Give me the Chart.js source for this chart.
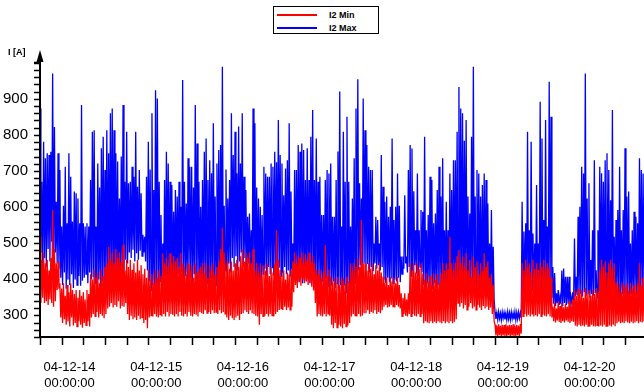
<!DOCTYPE html>
<html>
<head>
<meta charset="utf-8">
<script src="https://cdn.jsdelivr.net/npm/chart.js@4.4.1/dist/chart.umd.min.js"></script>
<style>
  body { margin: 0; background: #fff; }
  #wrap { position: relative; width: 644px; height: 392px; }
  #legend {
    position: absolute; left: 273px; top: 6px; width: 106px; height: 28px;
    border: 1px solid #000; box-sizing: border-box; background: #fff;
    font: bold 9px "Liberation Sans", Arial, sans-serif;
  }
  #legend .row { position: absolute; left: 0; height: 12px; width: 100%; }
  #legend .line { position: absolute; left: 3px; top: 5px; width: 40px; height: 1.5px; }
  #legend .txt { position: absolute; left: 55px; top: 0; line-height: 12px; }
  #unit {
    position: absolute; left: 8px; top: 47px;
    font: bold 9px "Liberation Sans", Arial, sans-serif;
  }
</style>
</head>
<body>
<div id="wrap">
  <canvas id="chart"></canvas>
  <div id="legend">
    <div class="row" style="top:2px"><div class="line" style="background:#f00"></div><div class="txt">I2 Min</div></div>
    <div class="row" style="top:15px"><div class="line" style="background:#00f"></div><div class="txt">I2 Max</div></div>
  </div>
  <div id="unit">I [A]</div>
</div>
<script>
// sampling: hours relative to 04-12-14 00:00:00, one sample every 15 min
const startHour = -7.9;
const stepHours = 0.25;

const dayLabels = ['04-12-14', '04-12-15', '04-12-16', '04-12-17', '04-12-18', '04-12-19', '04-12-20'];
const yLabels = [300, 400, 500, 600, 700, 800, 900];

// I2 Max [A]
const i2Max = [
  869,470, 666,420, 777,455, 731,430, 745,480, 740,445, 749,500, 966,430, 818,470, 611,440,
  745,425, 699,400, 542,380, 600,415, 708,370, 551,395, 745,380, 680,410, 556,372, 639,395,
  634,380, 620,405, 551,378, 879,392, 551,400, 542,410, 551,385, 542,415, 671,395, 805,402,
  809,385, 542,370, 717,395, 650,365, 759,390, 791,360, 699,385, 809,372, 745,395, 856,365,
  869,390, 809,375, 745,398, 722,380, 620,405, 736,395, 879,420, 666,450, 805,440, 662,470,
  666,455, 708,478, 680,445, 805,468, 652,450, 699,475, 634,460, 519,470, 514,445, 680,420,
  777,390, 700,365, 856,380, 643,352, 920,375, 897,360, 666,390, 574,355, 495,380, 671,370,
  749,395, 717,360, 666,385, 657,372, 583,400, 643,385, 625,410, 666,390, 597,415, 948,395,
  666,405, 606,390, 731,418, 708,400, 708,385, 650,410, 879,395, 772,380, 666,400, 597,372,
  671,390, 749,368, 786,385, 671,375, 726,398, 690,370, 828,392, 625,380, 717,395, 754,368,
  768,390, 985,400, 600,420, 700,410, 620,440, 671,415, 856,455, 740,430, 805,460, 690,420,
  819,445, 717,470, 856,430, 680,455, 643,420, 569,440, 578,410, 532,395, 869,375, 828,360,
  650,385, 620,365, 597,380, 574,410, 708,425, 689,405, 680,430, 680,410, 717,428, 708,405,
  749,420, 720,410, 837,428, 740,405, 717,415, 629,430, 703,410, 726,420, 828,405, 639,425,
  495,400, 699,390, 699,403, 768,388, 749,400, 772,385, 754,398, 671,390, 759,395, 671,385,
  791,398, 865,380, 671,390, 786,375, 666,385, 680,378, 574,390, 574,380, 671,388, 699,376,
  689,385, 717,378, 569,390, 569,372, 671,385, 750,365, 916,380, 542,362, 805,378, 666,360,
  846,385, 666,368, 542,390, 620,372, 731,385, 869,375, 950,420, 662,435, 620,412, 897,440,
  809,420, 768,438, 708,415, 699,430, 699,418, 495,440, 569,425, 560,435, 495,420, 740,430,
  652,395, 611,385, 625,400, 569,388, 597,398, 786,385, 560,395, 597,390, 689,400, 600,388,
  459,410, 459,425, 629,440, 459,415, 699,430, 768,405, 758,420, 640,435, 532,412, 689,405,
  532,430, 588,415, 583,380, 791,370, 532,385, 574,366, 680,378, 671,368, 551,385, 578,372,
  643,380, 708,366, 625,385, 731,370, 532,380, 611,368, 532,360, 689,370, 643,352, 726,365,
  726,350, 805,362, 929,348, 869,360, 856,352, 780,365, 837,350, 625,360, 578,355, 791,368,
  985,350, 625,362, 699,355, 689,368, 625,350, 657,362, 689,348, 671,360, 606,352, 495,365,
  588,350, 486,340,
  305,286, 303,284, 306,287, 302,283, 305,288, 304,285, 301,283, 306,286, 303,284, 305,287,
  302,285, 306,283, 304,286, 305,288, 303,290,
  611,350, 528,362, 551,348, 805,360, 532,355, 777,365, 523,350, 495,362, 657,352, 495,365,
  888,350, 786,362, 560,348, 837,360, 542,352, 943,365, 846,345,
  430,328, 413,322, 357,330, 366,325, 348,328, 420,322, 426,330, 403,325, 403,328, 403,322,
  348,330, 360,335,
  509,348, 403,352, 569,345, 597,355, 708,348, 689,360, 966,350, 620,358, 662,345, 449,355,
  532,350, 726,358, 421,345, 532,355, 708,348, 690,360, 666,350, 726,345, 745,358, 699,350,
  615,345, 865,355, 514,348, 560,358, 588,350, 708,345, 532,355, 588,348, 759,358, 625,350,
  639,345, 495,355, 532,348, 583,358, 569,350, 551,345, 731,355, 699,348, 689,355
];

// I2 Min [A]
const i2Min = [
  514,330, 450,345, 470,330, 440,335, 450,325, 420,340, 455,330, 588,320, 480,335, 440,366,
  445,370, 385,290, 370,275, 385,285, 350,270, 380,280, 360,265, 385,290, 366,268, 355,275,
  366,265, 345,280, 366,270, 350,262, 360,275, 340,268, 366,280, 355,265, 410,290, 395,300,
  422,293, 400,305, 415,290, 385,300, 422,295, 405,288, 430,300, 440,315, 486,320, 450,330,
  470,318, 440,325, 480,320, 455,335, 470,315, 445,322, 491,320, 420,330, 450,300, 430,283,
  450,295, 422,285, 440,290, 415,283, 450,295, 420,285, 435,290, 410,275, 425,283, 400,260,
  422,290, 395,295, 410,293, 385,300, 422,293, 400,290, 420,298, 405,293, 468,300, 440,293,
  455,305, 430,293, 468,300, 440,298, 460,293, 445,300, 455,293, 430,305, 468,295, 440,293,
  430,300, 410,293, 440,305, 420,295, 435,293, 400,300, 440,298, 415,293, 425,305, 430,302,
  440,300, 415,310, 440,302, 400,305, 435,300, 420,310, 440,302, 410,305, 430,300, 445,310,
  480,302, 537,305, 470,300, 440,290, 450,283, 425,295, 445,288, 420,283, 440,290, 450,295,
  430,283, 460,300, 480,302, 445,310, 470,305, 455,300, 470,310, 440,302, 480,300, 420,295,
  440,293, 415,270, 440,300, 410,293, 435,295, 420,300, 440,293, 405,300, 430,295, 415,293,
  440,300, 532,305, 450,311, 422,315, 405,311, 420,320, 395,311, 415,318, 410,311, 422,320,
  445,360, 470,380, 440,372, 460,390, 455,378, 470,395, 440,385, 465,392, 450,380, 470,388,
  445,375, 460,365, 440,330, 422,293, 410,300, 422,295, 400,293, 415,300, 491,293, 405,300,
  422,295, 403,270, 390,260, 400,275, 385,262, 403,270, 380,265, 395,260, 400,272, 385,265,
  403,268, 390,275, 440,293, 420,300, 440,295, 430,293, 455,300, 430,293, 560,295, 440,302,
  440,302, 420,310, 440,300, 425,305, 440,302, 410,310, 435,300, 420,305, 440,302, 415,310,
  403,320, 385,325, 400,318, 380,320, 403,325, 390,320, 400,318, 385,325, 403,320, 380,315,
  357,293, 345,300, 357,295, 340,293, 357,300, 440,293, 420,300, 440,295, 415,293, 440,300,
  425,293, 440,300, 412,274, 395,280, 412,276, 390,274, 405,280, 380,274, 412,278, 395,274,
  410,280, 385,276, 412,274, 440,280, 420,274, 440,278, 425,274, 514,280, 440,274, 420,278,
  440,285, 460,330, 477,320, 440,330, 459,315, 430,325, 468,311, 420,320, 450,330, 403,315,
  459,320, 430,311, 445,325, 410,318, 440,311, 420,322, 468,315, 430,320, 445,311, 400,318,
  410,300, 380,280,
  270,240, 268,238, 271,241, 267,237, 270,240, 269,239, 271,238, 268,241, 270,237, 269,240,
  271,239, 267,238, 270,241, 268,239, 272,245,
  440,293, 420,300, 450,293, 430,298, 440,293, 415,300, 450,293, 425,296, 440,293, 422,300,
  440,293, 430,298, 450,295, 425,293, 440,300, 430,293, 400,290,
  320,280, 330,276, 315,282, 335,278, 322,275, 330,280, 318,276, 328,282, 320,278, 335,275,
  322,280, 340,278,
  366,268, 350,265, 370,270, 355,266, 366,268, 345,265, 372,270, 358,266, 366,265, 350,270,
  366,266, 355,265, 372,268, 360,265, 420,268, 450,265, 430,270, 445,266, 415,265, 440,268,
  450,265, 425,270, 440,266, 385,274, 370,278, 385,274, 360,276, 385,274, 375,280, 385,276,
  365,274, 385,278, 370,274, 380,276, 360,280, 385,274, 440,278, 380,276, 400,280
];

const toPoints = arr => arr.map((v, j) => ({ x: startHour + j * stepHours, y: v }));
const fontFamily = '"Liberation Sans", Arial, sans-serif';

// axis lines, arrow, tick marks (major/minor lengths differ) and tick labels
const axesPlugin = {
  id: 'axes',
  afterDraw(chart) {
    const { ctx, chartArea: a, scales: { x, y } } = chart;
    ctx.save();
    ctx.strokeStyle = '#000';
    ctx.fillStyle = '#000';
    ctx.lineWidth = 2;
    ctx.beginPath();
    ctx.moveTo(a.left, a.bottom);
    ctx.lineTo(a.right, a.bottom);
    ctx.moveTo(a.left, a.bottom);
    ctx.lineTo(a.left, a.top);
    ctx.stroke();
    ctx.beginPath();
    ctx.moveTo(a.left, a.top - 12);
    ctx.lineTo(a.left - 3.5, a.top);
    ctx.lineTo(a.left + 3.5, a.top);
    ctx.closePath();
    ctx.fill();

    ctx.lineWidth = 1.5;
    ctx.beginPath();
    y.ticks.forEach(t => {
      const py = Math.round(y.getPixelForValue(t.value)) + 0.5;
      const len = t.value % 100 === 0 ? 10 : 6;
      ctx.moveTo(a.left, py);
      ctx.lineTo(a.left - len, py);
    });
    x.ticks.forEach(t => {
      const px = Math.round(x.getPixelForValue(t.value)) + 0.5;
      const len = t.value % 24 === 0 ? 15 : 8;
      ctx.moveTo(px, a.bottom);
      ctx.lineTo(px, a.bottom + len);
    });
    ctx.stroke();

    ctx.font = '15px ' + fontFamily;
    ctx.textAlign = 'right';
    ctx.textBaseline = 'middle';
    yLabels.forEach(v => ctx.fillText(String(v), a.left - 12, y.getPixelForValue(v) + 1));

    ctx.font = '13px ' + fontFamily;
    ctx.textAlign = 'center';
    dayLabels.forEach((d, i) => {
      const px = x.getPixelForValue(i * 24) + 1;
      ctx.fillText(d, px, a.bottom + 30);
      ctx.fillText('00:00:00', px, a.bottom + 46);
    });
    ctx.restore();
  }
};

new Chart(document.getElementById('chart'), {
  type: 'line',
  data: {
    datasets: [
      { label: 'I2 Min', data: toPoints(i2Min), borderColor: '#ff0000', borderWidth: 1.3 },
      { label: 'I2 Max', data: toPoints(i2Max), borderColor: '#0000ff', borderWidth: 1.3 }
    ]
  },
  options: {
    responsive: true,
    maintainAspectRatio: false,
    animation: false,
    events: [],
    layout: { padding: { top: 62, right: 0, left: 0, bottom: 0 } },
    elements: { point: { radius: 0 }, line: { tension: 0 } },
    plugins: { legend: { display: false }, tooltip: { enabled: false } },
    scales: {
      x: {
        type: 'linear',
        bounds: 'data',
        min: startHour,
        max: startHour + (i2Max.length - 1) * stepHours,
        border: { display: false },
        grid: { display: false, drawTicks: false },
        afterFit: s => { s.height = 55; },
        ticks: { stepSize: 6, includeBounds: false, autoSkip: false, maxRotation: 0, callback: () => '' }
      },
      y: {
        bounds: 'data',
        min: 236,
        max: 998,
        border: { display: false },
        grid: { display: false, drawTicks: false },
        afterFit: s => { s.width = 40; },
        ticks: { stepSize: 20, includeBounds: false, autoSkip: false, callback: () => '' }
      }
    }
  },
  plugins: [axesPlugin]
});
</script>
</body>
</html>
